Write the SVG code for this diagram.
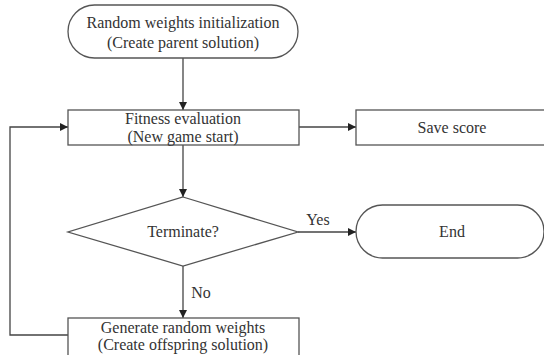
<svg xmlns="http://www.w3.org/2000/svg" width="544" height="355" viewBox="0 0 544 355">
<defs>
<style>
.s{fill:#fff;stroke:#555;stroke-width:1.3}
.c{fill:none;stroke:#444;stroke-width:1.3}
text{font-family:"Liberation Serif","Times New Roman",serif;font-size:16px;fill:#333;text-anchor:middle}
</style>
<marker id="a" viewBox="0 0 10 10" refX="10" refY="5" markerWidth="10" markerHeight="8" markerUnits="userSpaceOnUse" orient="auto">
<path d="M0,0 L10,5 L0,10 z" fill="#222"/>
</marker>
</defs>
<rect width="544" height="355" fill="#fff"/>
<g id="connectors">
<line class="c" x1="183" y1="58" x2="183" y2="110" marker-end="url(#a)"/>
<line class="c" x1="299" y1="127" x2="356" y2="127" marker-end="url(#a)"/>
<line class="c" x1="183" y1="145" x2="183" y2="197" marker-end="url(#a)"/>
<line class="c" x1="298" y1="232" x2="356" y2="232" marker-end="url(#a)"/>
<line class="c" x1="183" y1="266" x2="183" y2="318" marker-end="url(#a)"/>
<polyline class="c" points="68,335 10,335 10,127 68,127" marker-end="url(#a)"/>
<text x="318" y="225">Yes</text>
<text x="201" y="298">No</text>
</g>
<g id="start">
<rect class="s" x="68" y="5" width="230" height="53" rx="26.5"/>
<text x="183" y="28">Random weights initialization</text>
<text x="183" y="48">(Create parent solution)</text>
</g>
<g id="fitness">
<rect class="s" x="68" y="110" width="231" height="35"/>
<text x="183" y="124">Fitness evaluation</text>
<text x="183" y="142">(New game start)</text>
</g>
<g id="save">
<rect class="s" x="356" y="110" width="194" height="35"/>
<text x="452" y="133">Save score</text>
</g>
<g id="terminate">
<polygon class="s" points="183,197 298,232 183,266 68,232"/>
<text x="183" y="237">Terminate?</text>
</g>
<g id="end">
<rect class="s" x="356" y="205" width="188" height="53" rx="26.5"/>
<text x="452" y="237">End</text>
</g>
<g id="generate">
<rect class="s" x="68" y="318" width="231" height="40"/>
<text x="183" y="333">Generate random weights</text>
<text x="183" y="350">(Create offspring solution)</text>
</g>
</svg>
